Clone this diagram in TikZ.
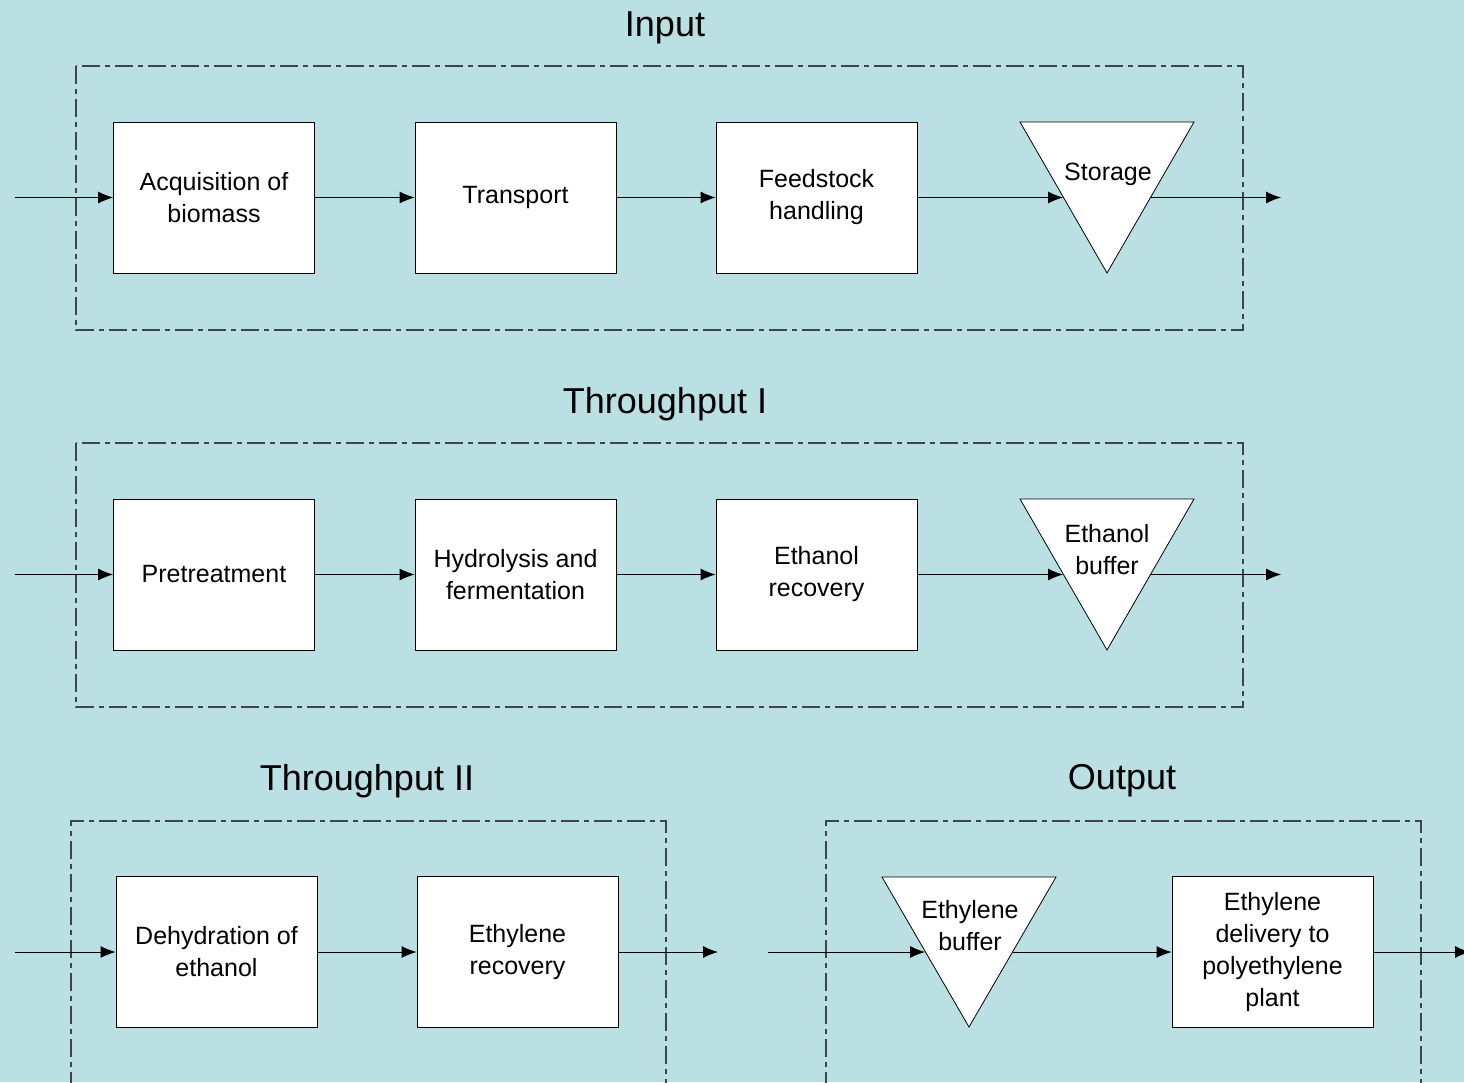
\documentclass[tikz,border=0pt]{standalone}
\usepackage{fontspec}
\setmainfont{Liberation Sans}
\usetikzlibrary{arrows.meta}
\definecolor{bgc}{RGB}{186,224,227}
\definecolor{dashc}{RGB}{60,70,72}
\tikzset{
  procbox/.style={draw=black,line width=0.8pt,fill=white,minimum width=201pt,minimum height=151pt,inner sep=0pt,align=center,font=\fontsize{25}{32}\selectfont},
  tritext/.style={inner sep=0pt,align=center,font=\fontsize{25}{32}\selectfont},
  trishape/.style={draw=black,line width=0.8pt,fill=white},
  grp/.style={draw=dashc,line width=1.2pt,dash pattern=on 18pt off 5pt on 5pt off 5pt},
  ttl/.style={inner sep=0pt,font=\fontsize{36}{40}\selectfont},
  flow/.style={draw=black,line width=0.9pt,-{Latex[length=15pt,width=12pt]}}
}
\begin{document}
\begin{tikzpicture}[x=1pt,y=-1pt]
\useasboundingbox (0,0) rectangle (1464,1082);
\fill[bgc] (0,0) rectangle (1464,1082);

% ---------- Input ----------
\node[ttl] (tIn) at (665,28) {Input};
\draw[grp] (76,66) rectangle (1243,330);
\node[procbox] (a1) at (214,197.5) {Acquisition of\\biomass};
\node[procbox] (a2) at (515.5,197.5) {Transport};
\node[procbox] (a3) at (816.5,197.5) {Feedstock\\handling};
\draw[trishape] (1020,122) -- (1194,122) -- (1107,273) -- cycle;
\node[tritext] (a4) at (1108,174) {Storage};
\coordinate (a0) at (15,197.5);
\coordinate (a4in) at (1063,197.5);
\coordinate (a4out) at (1151,197.5);
\coordinate (a5) at (1281,197.5);
\draw[flow] (a0) -- (a1.west);
\draw[flow] (a1.east) -- (a2.west);
\draw[flow] (a2.east) -- (a3.west);
\draw[flow] (a3.east) -- (a4in);
\draw[flow] (a4out) -- (a5);

% ---------- Throughput I ----------
\node[ttl] (tT1) at (665,404) {Throughput I};
\draw[grp] (76,443) rectangle (1243,707);
\node[procbox] (b1) at (214,574.5) {Pretreatment};
\node[procbox] (b2) at (515.5,574.5) {Hydrolysis and\\fermentation};
\node[procbox] (b3) at (816.5,574.5) {Ethanol\\recovery};
\draw[trishape] (1020,499) -- (1194,499) -- (1107,650) -- cycle;
\node[tritext] (b4) at (1107,550) {Ethanol\\buffer};
\coordinate (b0) at (15,574.5);
\coordinate (b4in) at (1063,574.5);
\coordinate (b4out) at (1151,574.5);
\coordinate (b5) at (1281,574.5);
\draw[flow] (b0) -- (b1.west);
\draw[flow] (b1.east) -- (b2.west);
\draw[flow] (b2.east) -- (b3.west);
\draw[flow] (b3.east) -- (b4in);
\draw[flow] (b4out) -- (b5);

% ---------- Throughput II ----------
\node[ttl] (tT2) at (367,781) {Throughput II};
\draw[grp] (71,1090) -- (71,821) -- (666,821) -- (666,1090);
\node[procbox] (c1) at (216.5,952) {Dehydration of\\ethanol};
\node[procbox] (c2) at (517.5,952) {Ethylene\\recovery};
\coordinate (c0) at (15,952);
\coordinate (c3) at (718,952);
\draw[flow] (c0) -- (c1.west);
\draw[flow] (c1.east) -- (c2.west);
\draw[flow] (c2.east) -- (c3);

% ---------- Output ----------
\node[ttl] (tOut) at (1122,781) {Output};
\draw[grp] (826,1090) -- (826,821) -- (1421,821) -- (1421,1090);
\draw[trishape] (882,877) -- (1056,877) -- (969,1027) -- cycle;
\node[tritext] (d1) at (970,926) {Ethylene\\buffer};
\node[procbox] (d2) at (1272.5,952) {Ethylene\\delivery to\\polyethylene\\plant};
\coordinate (d0) at (768,952);
\coordinate (d1in) at (925,952);
\coordinate (d1out) at (1013,952);
\coordinate (d3) at (1470,952);
\draw[flow] (d0) -- (d1in);
\draw[flow] (d1out) -- (d2.west);
\draw[flow] (d2.east) -- (d3);
\end{tikzpicture}
\end{document}
